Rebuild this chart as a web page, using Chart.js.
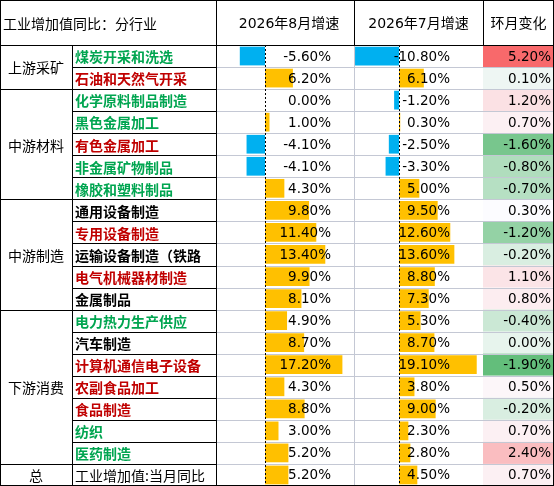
<!DOCTYPE html>
<html><head><meta charset="utf-8">
<script src="https://cdn.jsdelivr.net/npm/chart.js@4"></script>
<style>html,body{margin:0;padding:0;background:#fff}#w{width:554px;height:486px}</style>
</head><body><div id="w"><canvas id="c"></canvas></div>
<script>
const groups = [["上游采矿",0,2],["中游材料",2,7],["中游制造",7,12],["下游消费",12,19],["总",19,20]];
const names = ["煤炭开采和洗选","石油和天然气开采","化学原料制品制造","黑色金属加工","有色金属加工","非金属矿物制品","橡胶和塑料制品","通用设备制造","专用设备制造","运输设备制造（铁路","电气机械器材制造","金属制品","电力热力生产供应","汽车制造","计算机通信电子设备","农副食品加工","食品制造","纺织","医药制造","工业增加值:当月同比"];
const nameColor = ["g","r","g","g","r","g","g","k","r","k","r","k","g","k","r","r","r","g","g","k"];
const aug = [-5.6,6.2,0.0,1.0,-4.1,-4.1,4.3,9.8,11.4,13.4,9.9,8.1,4.9,8.7,17.2,4.3,8.8,3.0,5.2,5.2];
const jul = [-10.8,6.1,-1.2,0.3,-2.5,-3.3,5.0,9.5,12.6,13.6,8.8,7.3,5.3,8.7,19.1,3.8,9.0,2.3,2.8,4.5];
const change = [5.2,0.1,1.2,0.7,-1.6,-0.8,-0.7,0.3,-1.2,-0.2,1.1,0.8,-0.4,0.0,-1.9,0.5,-0.2,0.7,2.4,0.7];
const headers = ["工业增加值同比：分行业","2026年8月增速","2026年7月增速","环月变化"];

const W=554,H=486,TOP=45;
const X=[0,72,216,354,483,554];
const colC={g:"#00a550",r:"#c00000",k:"#000"};
function mix(a,b,t){return "rgb("+a.map((v,i)=>Math.round(v+(b[i]-v)*t)).join(",")+")";}
function cellColor(v){const mid=0.3;
  if(v>=mid) return mix([252,252,255],[248,105,107],Math.min(1,(v-mid)/(5.2-mid)));
  return mix([252,252,255],[99,190,123],Math.min(1,(mid-v)/(mid+1.9)));}
const fmt=v=>v.toFixed(2)+"%";
const font='"DejaVu Sans", "Noto Sans CJK SC", sans-serif';
const cjk='"Noto Sans CJK SC", sans-serif';

const tablePlugin={id:"tbl",
 beforeDatasetsDraw(ch){
  const c=ch.ctx,y=ch.scales.y;
  const rh=(H-TOP)/20;
  c.save();
  change.forEach((v,i)=>{const yc=y.getPixelForValue(i);c.fillStyle=cellColor(v);c.fillRect(X[4],yc-rh/2,X[5]-X[4],rh);});
  c.strokeStyle="#c4c8d4";c.lineWidth=1;
  for(let i=1;i<20;i++){const yy=Math.round(TOP+i*rh)+0.5;c.beginPath();c.moveTo(X[2],yy);c.lineTo(X[5],yy);c.stroke();}
  c.beginPath();c.moveTo(X[3]+0.5,TOP);c.lineTo(X[3]+0.5,H);c.stroke();
  c.restore();
 },
 afterDatasetsDraw(ch){
  const c=ch.ctx,y=ch.scales.y,x1=ch.scales.x1,x2=ch.scales.x2;
  const rh=(H-TOP)/20;
  c.save();
  c.setLineDash([2,2]);c.strokeStyle="#000";c.lineWidth=1;
  [x1.getPixelForValue(0),x2.getPixelForValue(0)].forEach(px=>{px=Math.round(px)+0.5;c.beginPath();c.moveTo(px,TOP);c.lineTo(px,H);c.stroke();});
  c.setLineDash([]);
  c.strokeStyle="#000";
  for(let i=0;i<20;i++){const yy=Math.round(TOP+i*rh)+0.5;c.beginPath();c.moveTo(X[1],yy);c.lineTo(X[2],yy);c.stroke();}
  groups.forEach(g=>{const yy=Math.round(TOP+g[1]*rh)+0.5;c.beginPath();c.moveTo(0,yy);c.lineTo(X[2],yy);c.stroke();});
  c.beginPath();c.moveTo(0,TOP+0.5);c.lineTo(W,TOP+0.5);c.stroke();
  [X[1],X[2]].forEach(x=>{c.beginPath();c.moveTo(x+0.5,TOP);c.lineTo(x+0.5,H);c.stroke();});
  [X[2],X[3],X[4]].forEach(x=>{c.beginPath();c.moveTo(x+0.5,0);c.lineTo(x+0.5,TOP);c.stroke();});
  c.strokeRect(0.5,0.5,W-1,H-1);
  c.fillStyle="#000";c.textBaseline="middle";c.font="14px "+cjk;
  c.textAlign="left";c.fillText(headers[0],3,24);
  c.textAlign="center";c.font="14px "+font;
  c.fillText(headers[1],(X[2]+X[3])/2+4,24);c.fillText(headers[2],(X[3]+X[4])/2,24);c.fillText(headers[3],(X[4]+X[5])/2,24);
  c.font="14px "+cjk;
  groups.forEach(g=>{const yc=TOP+(g[1]+g[2])/2*rh;c.fillText(g[0],36,yc+1);});
  names.forEach((n,i)=>{const yc=y.getPixelForValue(i)+1;
    c.textAlign="left";c.fillStyle=colC[nameColor[i]];c.font=(i===19?"":"bold ")+"14px "+cjk;c.fillText(n,75,yc);
    c.fillStyle="#000";c.font="13.5px "+font;c.textAlign="right";
    c.fillText(fmt(aug[i]),331,yc);c.fillText(fmt(jul[i]),450,yc);c.fillText(fmt(change[i]),551,yc);
  });
  c.restore();
 }};

new Chart(document.getElementById("c"),{
 type:"bar",
 data:{labels:names,datasets:[
  {data:aug,xAxisID:"x1",grouped:false,backgroundColor:aug.map(v=>v<0?"#00b0f0":"#ffc000"),barPercentage:0.85,categoryPercentage:1},
  {data:jul,xAxisID:"x2",grouped:false,backgroundColor:jul.map(v=>v<0?"#00b0f0":"#ffc000"),barPercentage:0.85,categoryPercentage:1}
 ]},
 options:{indexAxis:"y",responsive:true,maintainAspectRatio:false,animation:false,
  layout:{padding:{top:TOP,left:0,right:0,bottom:0}},
  plugins:{legend:{display:false},tooltip:{enabled:false}},
  scales:{
   y:{display:false,offset:true},
   x1:{display:false,min:-265/4.5,max:(554-265)/4.5},
   x2:{display:false,min:-399/4.07,max:(554-399)/4.07}
  }},
 plugins:[tablePlugin]
});
</script></body></html>
